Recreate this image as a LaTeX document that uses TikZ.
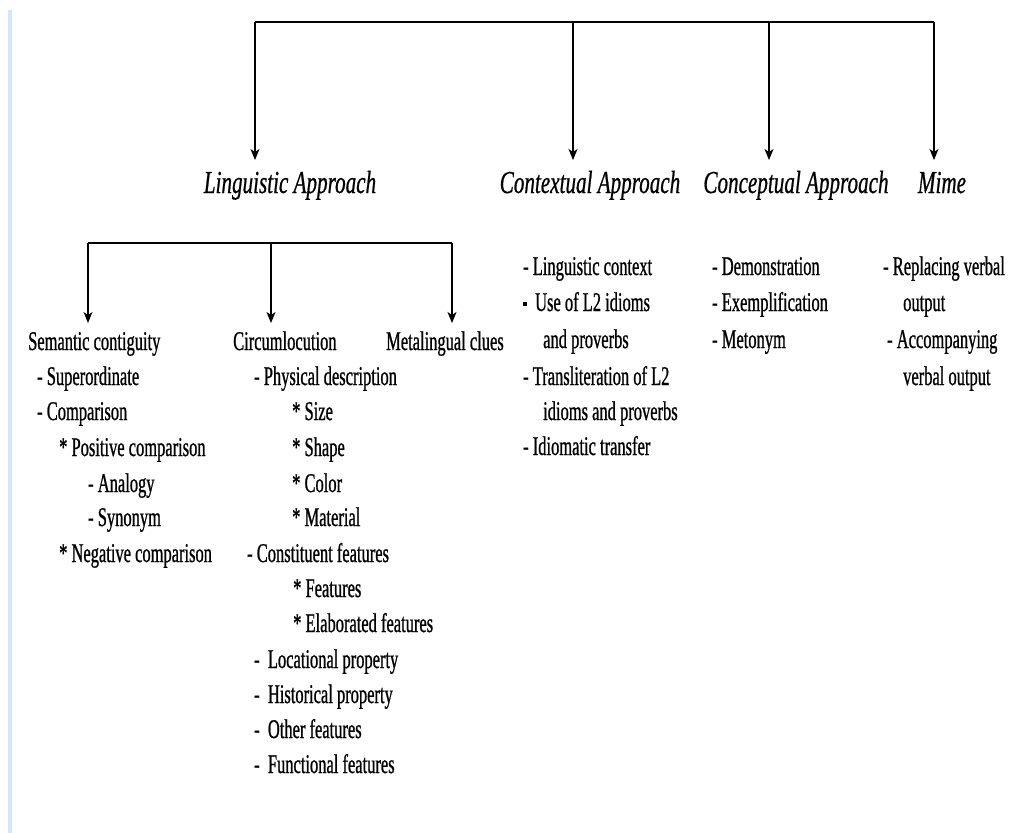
\documentclass[tikz,border=0pt]{standalone}
\usepackage{fontspec}
\setmainfont{Liberation Serif}[FakeStretch=0.61,FakeBold=0.8]
\newfontfamily\headfont{Liberation Serif}[FakeStretch=0.66,FakeBold=0.6]
\usetikzlibrary{arrows.meta}
\definecolor{sidebar}{HTML}{D6E6FA}

\begin{document}
\begin{tikzpicture}[x=1pt,y=-1pt,
  item/.style={anchor=base west, inner sep=0pt, font=\fontsize{27}{32}\selectfont},
  head/.style={anchor=base, inner sep=0pt, font=\headfont\itshape\fontsize{32}{38}\selectfont},
  link/.style={line width=1.5pt, black},
  arrow/.style={link, -{Stealth[length=11pt,width=9pt,inset=3pt]}}]

% page and side rule
\fill[white] (0,0) rectangle (1026,833);
\fill[sidebar] (8,10) rectangle (11.5,833);
\useasboundingbox (0,0) rectangle (1026,833);

% ---- main approaches
\node[head] (ling) at (290,193) {Linguistic Approach};
\node[head] (cont) at (590,193) {Contextual Approach};
\node[head] (conc) at (796,193) {Conceptual Approach};
\node[head] (mime) at (942,193) {Mime};

\coordinate (top1) at (255,22);
\coordinate (top2) at (573,22);
\coordinate (top3) at (769,22);
\coordinate (top4) at (934,22);
\coordinate (end1) at (255,160);
\coordinate (end2) at (573,160);
\coordinate (end3) at (769,160);
\coordinate (end4) at (934,160);
\draw[link] (top1) -- (top4);
\draw[arrow] (top1) -- (end1);
\draw[arrow] (top2) -- (end2);
\draw[arrow] (top3) -- (end3);
\draw[arrow] (top4) -- (end4);

% ---- linguistic sub-branches
\coordinate (mid1) at (88,243);
\coordinate (mid2) at (271,243);
\coordinate (mid3) at (452,243);
\coordinate (sub1) at (88,323);
\coordinate (sub2) at (271,323);
\coordinate (sub3) at (452,323);
\draw[link] (mid1) -- (mid3);
\draw[arrow] (mid1) -- (sub1);
\draw[arrow] (mid2) -- (sub2);
\draw[arrow] (mid3) -- (sub3);

% semantic contiguity
\node[item] (sc)   at (28,350) {Semantic contiguity};
\node[item] (sc1)  at (37,385) {- Superordinate};
\node[item] (sc2)  at (37,420) {- Comparison};
\node[item] (sc3)  at (59,456) {* Positive comparison};
\node[item] (sc4)  at (88,492) {- Analogy};
\node[item] (sc5)  at (88,526) {- Synonym};
\node[item] (sc6)  at (59,562) {* Negative comparison};

% circumlocution
\node[item] (ci)   at (233,350) {Circumlocution};
\node[item] (ci1)  at (254,385) {- Physical description};
\node[item] (ci2)  at (292,420) {* Size};
\node[item] (ci3)  at (292,456) {* Shape};
\node[item] (ci4)  at (292,492) {* Color};
\node[item] (ci5)  at (292,526) {* Material};
\node[item] (ci6)  at (247,562) {- Constituent features};
\node[item] (ci7)  at (293,597) {* Features};
\node[item] (ci8)  at (293,632) {* Elaborated features};
\node[item] (ci9)  at (254,668) {-\ \ Locational property};
\node[item] (ci10) at (254,703) {-\ \ Historical property};
\node[item] (ci11) at (254,738) {-\ \ Other features};
\node[item] (ci12) at (254,773) {-\ \ Functional features};

% metalingual clues
\node[item] (ml)   at (386,350) {Metalingual clues};

% contextual approach
\node[item] (co1)  at (523,275) {- Linguistic context};
\node[item] (co2)  at (523,311) {\rule[5pt]{4pt}{4pt}\hspace{8pt}Use of L2 idioms};
\node[item] (co3)  at (543,348) {and proverbs};
\node[item] (co4)  at (523,385) {- Transliteration of L2};
\node[item] (co5)  at (543,420) {idioms and proverbs};
\node[item] (co6)  at (523,455) {- Idiomatic transfer};

% conceptual approach
\node[item] (cp1)  at (712,275) {- Demonstration};
\node[item] (cp2)  at (712,311) {- Exemplification};
\node[item] (cp3)  at (712,348) {- Metonym};

% mime
\node[item] (mi1)  at (883,275) {- Replacing verbal};
\node[item] (mi2)  at (903,311) {output};
\node[item] (mi3)  at (887,348) {- Accompanying};
\node[item] (mi4)  at (903,385) {verbal output};
\end{tikzpicture}
\end{document}
